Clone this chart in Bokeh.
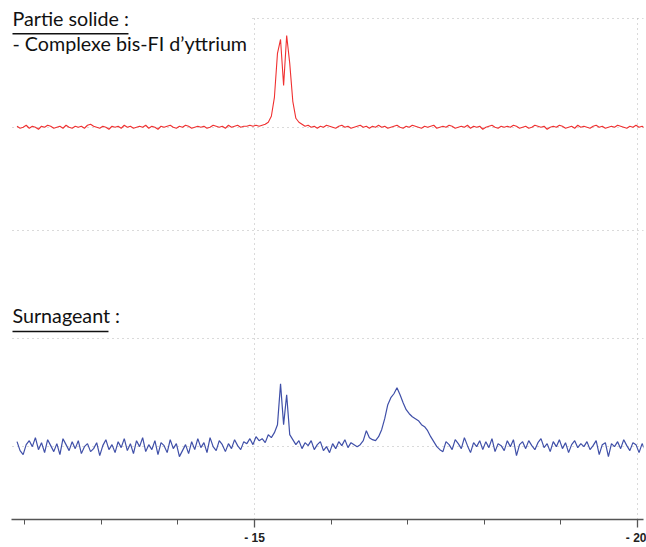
from bokeh.plotting import figure
from bokeh.models import FixedTicker, Range1d, Label, BoxAnnotation
from bokeh.embed import file_html
from bokeh.resources import INLINE

# chemical shift sampling (ppm), reversed axis
PPM_START = -11.90
PPM_STEP = -0.04

# "Partie solide" spectrum (intensity, arbitrary units, baseline = 0)
solid = [1, -1, 0, 2, -1, 1, 0, -2, 1, 0, 2, 1, -1, 0, 1, -1, 2, 0, -1, 1,
         0, 1, -1, 2, 3, 1, 0, -1, 1, 0, -2, 1, 0, 1, -1, 2, 0, 1, -1, 0,
         1, 0, 2, -1, 1, 0, -2, 1, 0, 1, 2, 0, -1, 1, 0, 2, 1, -1, 0, 1,
         0, 1, -1, 0, 2, 1, 0, 1, -1, 2, 0, 1, 2, 0, 1, 1, 2, 1, 2, 1,
         2, 3, 5, 11, 30, 74, 88, 42, 92, 64, 26, 9, 5, 3, 1, 2, 0, 1, -1, 1,
         0, 2, 1, 0, -1, 1, 2, 0, 1, -1, 0, 1, 2, 0, 1, -1, 1, 0, 2, 0,
         1, -1, 0, 1, 2, 0, -1, 1, 0, 2, 1, 0, -1, 1, 0, 1, 2, -1, 0, 1,
         0, 2, 1, -1, 0, 1, 0, 2, -1, 1, 0, 1, -2, 0, 1, 2, 0, -1, 1, 0,
         1, 0, 2, 1, -1, 0, 1, -1, 0, 2, 1, 0, 1, -2, 0, 1, 0, 2, 1, -1,
         0, 1, -1, 2, 0, 1, 0, -1, 1, 2, 0, 1, -1, 0, 1, 0, 2, 1, 0, -1,
         1, 0, 2, 0, 1, -1]

# "Surnageant" spectrum
surnageant = [5, -4, -8, 2, 6, 0, 9, -3, 4, -6, 7, 1, -5, 3, -8, 8, 2, -4, 5, -2,
              6, -7, 0, 3, -5, -2, 4, -9, 1, 7, -3, 2, -6, 5, -1, 8, -4, 3, -7, 6,
              0, 9, -5, 2, -3, 6, -8, 4, 1, -6, 7, -2, 3, -10, -4, 2, -7, 5, -3, 8,
              -1, 4, -6, 9, 0, -4, 6, 2, -5, 3, -2, 7, 1, -3, 5, 3, 8, 2, 10, 6,
              8, 4, 12, 9, 14, 22, 63, 22, 52, 12, 7, 2, 6, -2, 4, 1, 6, -3, 2, 5,
              -4, 0, -6, 3, -2, 5, 1, 7, -1, 4, 2, 0, 2, 6, 16, 9, 7, 6, 10, 17,
              28, 42, 49, 53, 59, 52, 44, 37, 33, 30, 28, 26, 22, 20, 16, 10, 5, 0, -3, -5,
              5, 2, -3, 7, 3, -2, 9, 1, -6, 4, 0, 6, -3, 5, -1, 8, -5, 3, 1, -4,
              6, 0, 7, -9, 2, 5, -2, 6, 1, -3, 4, 8, -1, 3, -5, 5, 0, 7, -2, 4,
              -6, 2, 6, -1, 3, 0, 5, -3, 1, 6, -8, 2, 4, -10, 3, 0, 5, -2, 7, 1,
              -4, 4, 2, -6, 3, -3]

SOLID_OFFSET = 320
grid_levels = [0, 108, 217, 320, 429]
major_ticks = [-15, -20]
minor_ticks = [-12, -13, -14, -16, -17, -18, -19]
tick_labels = {-15: "- 15", -20: "- 20"}

ppm_solid = [PPM_START + PPM_STEP * i for i in range(len(solid))]
ppm_surn = [PPM_START + PPM_STEP * i for i in range(len(surnageant))]

X0, X1 = -11.828, -20.078
Y0, Y1 = -73, 443

p = figure(width=646, height=547,
           x_range=Range1d(X0, X1), y_range=Range1d(Y0, Y1),
           output_backend="svg", toolbar_location=None,
           min_border_left=11, min_border_right=3, min_border_top=4, min_border_bottom=27)
p.outline_line_color = None
p.background_fill_color = "white"
p.border_fill_color = "white"

p.xaxis.ticker = FixedTicker(ticks=major_ticks, minor_ticks=minor_ticks)
p.xaxis.major_label_overrides = tick_labels
p.xaxis.major_label_text_font = "Liberation Sans"
p.xaxis.major_label_text_font_style = "bold"
p.xaxis.major_label_text_font_size = "12px"
p.xaxis.major_label_text_color = "#222222"
p.xaxis.major_label_standoff = 3
p.xaxis.axis_line_color = "#555555"
p.xaxis.axis_line_width = 1.6
p.xaxis.major_tick_line_color = "#555555"
p.xaxis.minor_tick_line_color = "#555555"
p.xaxis.major_tick_line_width = 1.3
p.xaxis.minor_tick_line_width = 1
p.xaxis.major_tick_in = 0
p.xaxis.minor_tick_in = 0
p.xaxis.major_tick_out = 8
p.xaxis.minor_tick_out = 5
p.yaxis.visible = False

p.xgrid.ticker = FixedTicker(ticks=major_ticks)
p.ygrid.ticker = FixedTicker(ticks=grid_levels)
for g in (p.xgrid, p.ygrid):
    g.grid_line_color = "#b5b5b5"
    g.grid_line_dash = "1 4"
    g.grid_line_width = 1

p.line(ppm_solid, [v + SOLID_OFFSET for v in solid], line_color="#f03030", line_width=1.1)
p.line(ppm_surn, surnageant, line_color="#3f4fa8", line_width=1.2)

# white areas: top band above the grid, and box behind the title text
p.add_layout(BoxAnnotation(left=X0, right=X1, top=Y1, bottom=431,
                           fill_color="white", fill_alpha=1.0, line_color=None, level="overlay"))
p.add_layout(BoxAnnotation(left=X0, right=-14.95, top=Y1, bottom=380,
                           fill_color="white", fill_alpha=1.0, line_color=None, level="overlay"))

font = "Lato"
fs = "19.7px"
p.add_layout(Label(x=-11.841, y=417, text="Partie solide :", text_font=font,
                   text_font_size=fs, text_color="#111111", level="overlay"))
p.add_layout(Label(x=-11.841, y=392, text="- Complexe bis-FI d\u2019yttrium", text_font=font,
                   text_font_size=fs, text_color="#111111", level="overlay"))
p.add_layout(Label(x=-11.841, y=120, text="Surnageant :", text_font=font,
                   text_font_size=fs, text_color="#111111", level="overlay"))
# underlines
p.add_layout(BoxAnnotation(left=-11.841, right=-13.355, top=414.5, bottom=413,
                           fill_color="#111111", fill_alpha=1.0, line_color=None, level="overlay"))
p.add_layout(BoxAnnotation(left=-11.841, right=-13.094, top=116, bottom=114.5,
                           fill_color="#111111", fill_alpha=1.0, line_color=None, level="overlay"))

open("out.html", "w").write(file_html(p, INLINE))
